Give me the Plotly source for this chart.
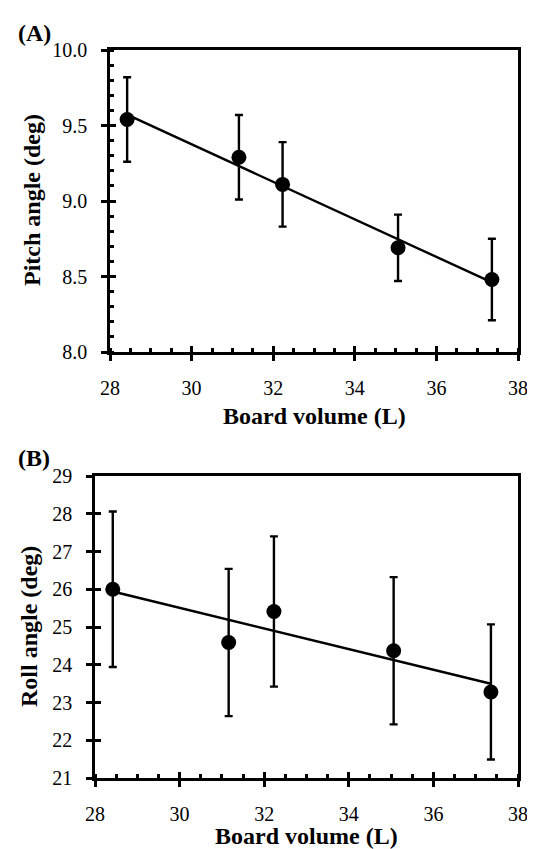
import numpy as np
import plotly.graph_objects as go

# ---- data ----
board_volume = [28.42, 31.16, 32.23, 35.06, 37.36]
pitch_angle = [9.54, 9.29, 9.11, 8.69, 8.48]
pitch_err = [0.28, 0.28, 0.28, 0.22, 0.27]
roll_angle = [26.0, 24.59, 25.41, 24.37, 23.28]
roll_err = [2.06, 1.95, 1.99, 1.95, 1.79]

x_ticks = [28, 30, 32, 34, 36, 38]
pitch_ticks = [8.0, 8.5, 9.0, 9.5, 10.0]
pitch_tick_text = ["8.0", "8.5", "9.0", "9.5", "10.0"]
roll_ticks = [21, 22, 23, 24, 25, 26, 27, 28, 29]

W, H = 535, 849
FONT = "Liberation Serif"

# linear fits
xv = np.array(board_volume)
pfit = np.polyfit(xv, pitch_angle, 1)
rfit = np.polyfit(xv, roll_angle, 1)
xline = np.array([xv.min(), xv.max()])

fig = go.Figure()

def add_panel(xa, ya, yvals, yerr, fit):
    fig.add_trace(go.Scatter(
        x=xline, y=np.polyval(fit, xline), mode="lines",
        line=dict(color="black", width=2.4), xaxis=xa, yaxis=ya,
        showlegend=False, hoverinfo="skip"))
    fig.add_trace(go.Scatter(
        x=board_volume, y=yvals, mode="markers",
        marker=dict(color="black", size=15),
        error_y=dict(type="data", array=yerr, visible=True,
                     color="black", thickness=2.4, width=4),
        xaxis=xa, yaxis=ya, showlegend=False))

add_panel("x", "y", pitch_angle, pitch_err, pfit)
add_panel("x2", "y2", roll_angle, roll_err, rfit)

# invisible traces for overlay tick axes
fig.add_trace(go.Scatter(x=[30], y=[9], mode="markers", marker=dict(opacity=0),
                         xaxis="x3", yaxis="y3", showlegend=False, hoverinfo="skip"))
fig.add_trace(go.Scatter(x=[30], y=[25], mode="markers", marker=dict(opacity=0),
                         xaxis="x4", yaxis="y4", showlegend=False, hoverinfo="skip"))

def px(v):
    return v / W

def py(v):
    return 1 - v / H

tickfont = dict(family=FONT, size=20, color="black")

top_xdom = [px(102), px(510)]
top_ydom = [py(344), py(42)]
bot_xdom = [px(87), px(510)]
bot_ydom = [py(770), py(468)]

common_x = dict(range=[28, 38], tickvals=x_ticks, ticks="outside", ticklen=6,
                tickwidth=2.5, tickcolor="black", showline=True, linecolor="black",
                linewidth=2.5, mirror=True, showgrid=False, zeroline=False,
                tickfont=tickfont, ticklabelstandoff=10, automargin=False,
                minor=dict(dtick=0.5, ticks="inside", ticklen=4, tickwidth=2.5,
                           tickcolor="black", showgrid=False))

overlay = dict(ticks="inside", ticklen=6, tickwidth=2.5, tickcolor="black",
               showticklabels=False, showline=False, showgrid=False,
               zeroline=False, automargin=False)

fig.update_layout(
    template="none",
    width=W, height=H,
    margin=dict(l=0, r=0, t=0, b=0, pad=0),
    paper_bgcolor="white", plot_bgcolor="white",
    showlegend=False,
    xaxis=dict(domain=top_xdom, anchor="y", **common_x),
    yaxis=dict(domain=top_ydom, anchor="x", range=[8.0, 10.0],
               tickvals=pitch_ticks, ticktext=pitch_tick_text,
               ticks="outside", ticklen=6, tickwidth=2.5, tickcolor="black",
               showline=True, linecolor="black", linewidth=2.5, mirror=True,
               showgrid=False, zeroline=False, tickfont=tickfont,
               ticklabelstandoff=10, automargin=False,
               minor=dict(dtick=0.1, ticks="inside", ticklen=4, tickwidth=2.5,
                          tickcolor="black", showgrid=False)),
    xaxis2=dict(domain=bot_xdom, anchor="y2", **common_x),
    yaxis2=dict(domain=bot_ydom, anchor="x2", range=[21, 29],
                tickvals=roll_ticks, ticks="outside", ticklen=6, tickwidth=2.5,
                tickcolor="black", showline=True, linecolor="black",
                linewidth=2.5, mirror=True, showgrid=False, zeroline=False,
                tickfont=tickfont, ticklabelstandoff=10, automargin=False),
    # overlay axes to draw the inside half of the major ticks
    xaxis3=dict(overlaying="x", anchor="y3", range=[28, 38], tickvals=x_ticks, **overlay),
    yaxis3=dict(overlaying="y", anchor="x3", range=[8.0, 10.0], tickvals=pitch_ticks, **overlay),
    xaxis4=dict(overlaying="x2", anchor="y4", range=[28, 38], tickvals=x_ticks, **overlay),
    yaxis4=dict(overlaying="y2", anchor="x4", range=[21, 29], tickvals=roll_ticks, **overlay),
)

ytitlefont = dict(family=FONT, size=24, color="black")
xtitlefont = dict(family=FONT, size=24, color="black")
ann = [
    dict(text="<b>Pitch angle (deg)</b>", x=px(24), y=py(192), textangle=-90, font=ytitlefont),
    dict(text="<b>Roll angle (deg)</b>", x=px(21), y=py(619), textangle=-90, font=ytitlefont),
    dict(text="<b>Board volume (L)</b>", x=px(306), y=py(408), textangle=0, font=xtitlefont),
    dict(text="<b>Board volume (L)</b>", x=px(298), y=py(828), textangle=0, font=xtitlefont),
]
for a in ann:
    fig.add_annotation(xref="paper", yref="paper", showarrow=False,
                       xanchor="center", yanchor="middle", **a)

labfont = dict(family=FONT, size=24, color="black")
fig.add_annotation(text="<b>(A)</b>", x=px(8), y=py(25), xref="paper", yref="paper",
                   showarrow=False, xanchor="left", yanchor="middle", font=labfont)
fig.add_annotation(text="<b>(B)</b>", x=px(8), y=py(450), xref="paper", yref="paper",
                   showarrow=False, xanchor="left", yanchor="middle", font=labfont)

fig.write_html("out.html")
